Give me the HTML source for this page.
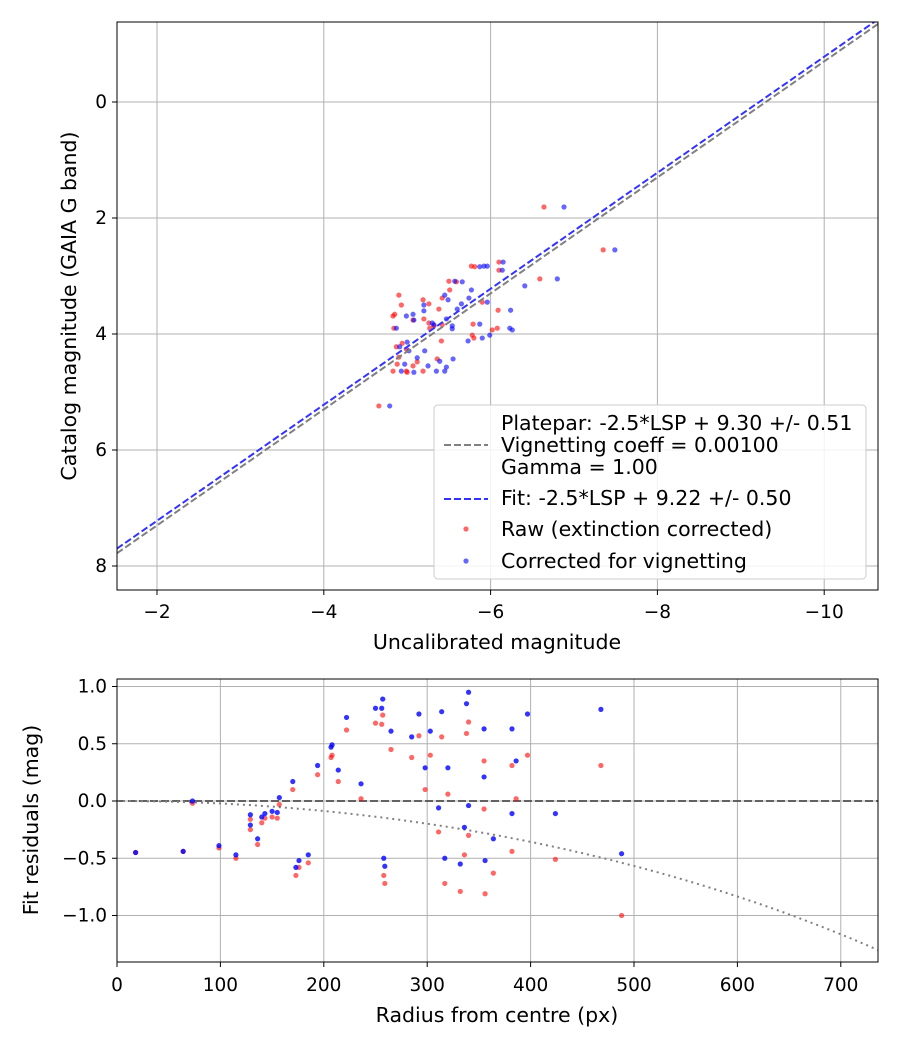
<!DOCTYPE html>
<html><head><meta charset="utf-8"><style>
body{margin:0;background:#fff}
svg text{font-family:"DejaVu Sans","Liberation Sans",sans-serif;fill:#000}
</style></head><body>
<svg id="c" width="900" height="1050" xmlns="http://www.w3.org/2000/svg"></svg>
<script>
// top chart data
const rawX=[-6.64,-7.35,-6.59,-5.77,-5.81,-6.10,-6.10,-5.50,-5.59,-5.51,-4.90,-5.42,-5.19,-5.26,-4.93,-5.38,-5.90,-6.09,-4.85,-4.83,-5.07,-5.20,-5.26,-5.27,-4.84,-5.32,-5.42,-5.79,-6.08,-6.02,-5.78,-5.80,-5.41,-4.87,-4.94,-4.99,-4.90,-5.36,-5.12,-4.88,-5.07,-4.83,-4.99,-5.00,-5.19,-4.66];
const rawY=[1.81,2.55,3.05,2.83,2.84,2.76,2.90,3.09,3.10,3.24,3.33,3.38,3.41,3.48,3.50,3.57,3.45,3.59,3.66,3.69,3.76,3.74,3.81,3.90,3.90,3.86,3.84,3.83,3.90,3.93,4.02,4.07,4.12,4.22,4.16,4.26,4.40,4.43,4.48,4.52,4.55,4.64,4.64,4.66,4.64,5.24];
const corX=[-6.88,-7.49,-6.80,-6.41,-5.87,-5.92,-5.96,-6.15,-6.14,-5.57,-5.66,-5.77,-5.45,-5.49,-5.74,-5.96,-5.65,-5.60,-5.20,-5.20,-6.24,-4.99,-5.07,-5.08,-5.47,-5.30,-5.32,-5.54,-5.54,-4.87,-5.87,-6.23,-6.26,-5.99,-5.90,-5.73,-5.00,-4.91,-5.02,-5.21,-5.12,-5.55,-5.39,-4.97,-5.25,-5.47,-4.93,-5.08,-5.35,-5.45,-4.79];
const corY=[1.81,2.55,3.05,3.17,2.84,2.83,2.83,2.76,2.90,3.09,3.10,3.24,3.33,3.41,3.38,3.45,3.48,3.57,3.50,3.60,3.59,3.69,3.66,3.76,3.74,3.81,3.84,3.86,3.91,3.90,3.83,3.90,3.93,4.02,4.07,4.12,4.14,4.22,4.29,4.29,4.41,4.43,4.47,4.52,4.55,4.57,4.64,4.66,4.64,4.64,5.24];
const plateIntercept=9.30, fitIntercept=9.22;
const topXTicks=[-2,-4,-6,-8,-10];
const topYTicks=[0,2,4,6,8];
// bottom chart data
const radius=[18,64,73,98.6,115,129,129,136,140,143,150,155,157,170,173,176,185,194,208,207,214,222,236,250,256,257,258,259,265,285,292,303,298,314,320,311,317,332,336,340,338,340,355,355,356,364,382,382,386,397,424,468,488];
const resBlue=[-0.45,-0.44,0.0,-0.39,-0.47,-0.12,-0.21,-0.33,-0.14,-0.11,-0.09,-0.10,0.03,0.17,-0.58,-0.52,-0.47,0.31,0.49,0.47,0.27,0.73,0.15,0.81,0.81,0.89,-0.50,-0.57,0.61,0.56,0.76,0.61,0.29,0.78,0.29,-0.06,-0.50,-0.55,-0.23,-0.04,0.85,0.95,0.63,0.21,-0.52,-0.33,0.63,-0.11,0.35,0.76,-0.11,0.80,-0.46];
const resRed=[-0.45,-0.44,-0.02,-0.41,-0.50,-0.16,-0.25,-0.38,-0.19,-0.15,-0.14,-0.15,-0.03,0.10,-0.65,-0.58,-0.54,0.23,0.40,0.38,0.17,0.62,0.02,0.68,0.67,0.75,-0.65,-0.72,0.45,0.38,0.57,0.40,0.10,0.56,0.06,-0.27,-0.72,-0.79,-0.47,-0.30,0.59,0.69,0.35,-0.07,-0.81,-0.63,0.31,-0.44,0.02,0.40,-0.51,0.31,-1.00];
const vigK=0.001;
const botXTicks=[0,100,200,300,400,500,600,700];
const botYTicks=[1.0,0.5,0.0,-0.5,-1.0];
const botYLabels=["1.0","0.5","0.0","−0.5","−1.0"];

const TF=18.5, LF=20.5;
const S=document.getElementById('c');const NS='http://www.w3.org/2000/svg';
function mk(t,a,p){const e=document.createElementNS(NS,t);for(const k in a)e.setAttribute(k,a[k]);(p||S).appendChild(e);return e;}
// top axes
const T={l:117,r:878,t:22,b:590};
const tx=v=>157+(-2-v)*83.4, ty=v=>102+v*58;
const topG=mk('g',{});


const ctp=mk('clipPath',{id:'ct'});mk('rect',{x:T.l,y:T.t,width:T.r-T.l,height:T.b-T.t},ctp);
topXTicks.forEach(v=>{const x=tx(v);
 const g=mk('line',{x1:x,x2:x,y1:T.t,y2:T.b,stroke:'#b0b0b0','stroke-width':1},topG);
 mk('line',{x1:x,x2:x,y1:T.b,y2:T.b+5,stroke:'#000'},topG);
 const t=mk('text',{x:x,y:T.b+28,'text-anchor':'middle','font-size':TF},topG);t.textContent=String(v).replace('-','−');
 });
topYTicks.forEach(v=>{const y=ty(v);
 const g=mk('line',{x1:T.l,x2:T.r,y1:y,y2:y,stroke:'#b0b0b0','stroke-width':1},topG);
 mk('line',{x1:T.l-5,x2:T.l,y1:y,y2:y,stroke:'#000'},topG);
 const t=mk('text',{x:T.l-10,y:y+6,'text-anchor':'end','font-size':TF},topG);t.textContent=v;
 });
const tp=mk('g',{'clip-path':'url(#ct)'},topG);
rawX.forEach((v,i)=>{const c=mk('circle',{cx:tx(v),cy:ty(rawY[i]),r:2.6,fill:'#ff0000','fill-opacity':0.6},tp);
 });
corX.forEach((v,i)=>{const c=mk('circle',{cx:tx(v),cy:ty(corY[i]),r:2.6,fill:'#0000ff','fill-opacity':0.6},tp);
 });
const x0=-1.52,x1=-10.65;
const pl=mk('line',{x1:tx(x0),y1:ty(x0+plateIntercept),x2:tx(x1),y2:ty(x1+plateIntercept),stroke:'#808080','stroke-width':2,'stroke-dasharray':'7,3'},tp);

const fl=mk('line',{x1:tx(x0),y1:ty(x0+fitIntercept),x2:tx(x1),y2:ty(x1+fitIntercept),stroke:'#3333ff','stroke-width':2,'stroke-dasharray':'7,3'},tp);

mk('rect',{x:T.l,y:T.t,width:T.r-T.l,height:T.b-T.t,fill:'none',stroke:'#000','stroke-width':1},topG);
// legend
const lg=mk('g',{},topG);
mk('rect',{x:434,y:405,width:432,height:174,rx:4,fill:'#fff','fill-opacity':0.85,stroke:'#ccc'},lg);
[['Platepar: -2.5*LSP + 9.30 +/- 0.51',430],['Vignetting coeff = 0.00100',452],['Gamma = 1.00',474],['Fit: -2.5*LSP + 9.22 +/- 0.50',505],['Raw (extinction corrected)',536],['Corrected for vignetting',568]].forEach(a=>{
 const t=mk('text',{x:501,y:a[1],'font-size':LF},lg);t.textContent=a[0];});
mk('line',{x1:444,x2:488,y1:445,y2:445,stroke:'#808080','stroke-width':2,'stroke-dasharray':'7,3'},lg);
mk('line',{x1:444,x2:488,y1:499,y2:499,stroke:'#3333ff','stroke-width':2,'stroke-dasharray':'7,3'},lg);
mk('circle',{cx:466,cy:529,r:2.6,fill:'#ff0000','fill-opacity':0.6},lg);
mk('circle',{cx:466,cy:561,r:2.6,fill:'#0000ff','fill-opacity':0.6},lg);
let t=mk('text',{x:497,y:649,'text-anchor':'middle','font-size':LF});t.textContent='Uncalibrated magnitude';
t=mk('text',{x:0,y:0,'text-anchor':'middle','font-size':LF,transform:'translate(76,306) rotate(-90)'});t.textContent='Catalog magnitude (GAIA G band)';

// bottom axes
const B={l:117,r:878,t:679,b:962};
const bx=v=>117+v*1.034, by=v=>801-v*114.5;
const bg=mk('g',{});
const cp=mk('clipPath',{id:'cb'});mk('rect',{x:B.l,y:B.t,width:B.r-B.l,height:B.b-B.t},cp);
botXTicks.forEach(v=>{const x=bx(v);
 const g=mk('line',{x1:x,x2:x,y1:B.t,y2:B.b,stroke:'#b0b0b0'},bg);
 mk('line',{x1:x,x2:x,y1:B.b,y2:B.b+5,stroke:'#000'},bg);
 const t=mk('text',{x:x,y:B.b+29,'text-anchor':'middle','font-size':TF},bg);t.textContent=v;});
botYTicks.forEach((v,i)=>{const y=by(v);
 const g=mk('line',{x1:B.l,x2:B.r,y1:y,y2:y,stroke:'#b0b0b0'},bg);
 mk('line',{x1:B.l-5,x2:B.l,y1:y,y2:y,stroke:'#000'},bg);
 const t=mk('text',{x:B.l-10,y:y+6,'text-anchor':'end','font-size':TF},bg);t.textContent=botYLabels[i];});
const bp=mk('g',{'clip-path':'url(#cb)'},bg);
const z=mk('line',{x1:B.l,x2:B.r,y1:by(0),y2:by(0),stroke:'#555','stroke-width':2,'stroke-dasharray':'8,3','stroke-opacity':0.9},bp);

let d='';for(let r=0;r<=740;r+=5){const v=10*Math.log10(Math.cos(vigK*r));d+=(r?'L':'M')+bx(r).toFixed(1)+','+by(v).toFixed(1);}
const vc=mk('path',{d:d,fill:'none',stroke:'#808080','stroke-width':2,'stroke-dasharray':'2,4'},bp);

radius.forEach((r,i)=>{const c=mk('circle',{cx:bx(r),cy:by(resRed[i]),r:2.6,fill:'#ff0000','fill-opacity':0.6},bp);
 });
radius.forEach((r,i)=>{const c=mk('circle',{cx:bx(r),cy:by(resBlue[i]),r:2.6,fill:'#0000ff','fill-opacity':0.8},bp);
 });
mk('rect',{x:B.l,y:B.t,width:B.r-B.l,height:B.b-B.t,fill:'none',stroke:'#000'},bg);
t=mk('text',{x:497,y:1022,'text-anchor':'middle','font-size':LF});t.textContent='Radius from centre (px)';
t=mk('text',{x:0,y:0,'text-anchor':'middle','font-size':LF,transform:'translate(38,820) rotate(-90)'});t.textContent='Fit residuals (mag)';
</script>
</body></html>
